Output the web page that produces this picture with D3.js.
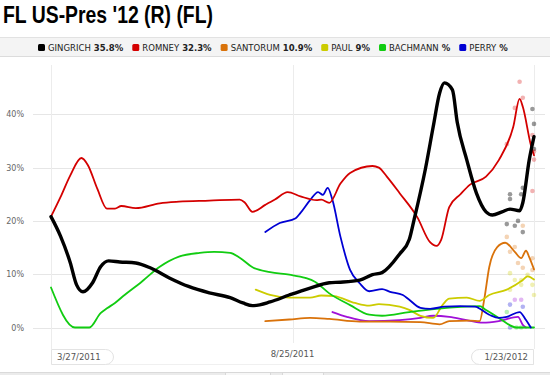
<!DOCTYPE html>
<meta charset="utf-8">
<html>
<head>
	<script src="https://cdn.jsdelivr.net/npm/d3@7"></script>
	<style>
		body { margin: 0; background: #fff; }
		svg { display: block; }
		text { font-family: "DejaVu Sans", Verdana, sans-serif; }
	</style>
</head>
<body>
<svg id="chart" width="550" height="375"></svg>
<script>
	var title = "FL US-Pres '12 (R) (FL)";
	var candidates = ["GINGRICH", "ROMNEY", "SANTORUM", "PAUL", "BACHMANN", "PERRY"];
	var latest = ["35.8%", "32.3%", "10.9%", "9%", "%", "%"];
	var yTicks = [0, 10, 20, 30, 40];
	var dateTicks = ["2011-03-27", "2011-08-25", "2012-01-23"];
	var dateLabels = ["3/27/2011", "8/25/2011", "1/23/2012"];

	// trend lines, [date, percent]
	var gingrich = [["2011-03-27",20.8],["2011-04-02",17.1],["2011-04-08",12.2],["2011-04-12",8.0],["2011-04-16",6.7],
		["2011-04-22",8.4],["2011-04-27",11.4],["2011-05-02",12.5],["2011-05-09",12.3],["2011-05-19",12.1],["2011-05-28",11.2],
		["2011-06-09",9.3],["2011-06-21",7.7],["2011-07-04",6.5],["2011-07-17",5.6],["2011-07-25",4.6],["2011-07-31",4.1],
		["2011-08-11",4.8],["2011-08-23",6.1],["2011-09-05",7.4],["2011-09-17",8.4],["2011-09-24",8.5],["2011-10-06",8.9],
		["2011-10-14",9.9],["2011-10-20",10.3],["2011-10-31",13.8],["2011-11-06",16.5],["2011-11-09",20.2],["2011-11-16",29.6],
		["2011-11-21",37.7],["2011-11-25",44],["2011-11-28",45.9],["2011-12-03",44.6],["2011-12-06",38.5],["2011-12-12",31.4],
		["2011-12-18",25.2],["2011-12-24",21.7],["2011-12-28",21.1],["2012-01-03",21.7],["2012-01-08",22.2],["2012-01-14",21.9],
		["2012-01-16",23.4],["2012-01-20",31.4],["2012-01-23",35.8]];
	var romney = [["2011-03-27",20.8],["2011-04-02",24.5],["2011-04-08",28.5],["2011-04-15",31.8],["2011-04-19",30.5],
		["2011-04-25",26],["2011-05-01",22.3],["2011-05-06",22.3],["2011-05-10",22.8],["2011-05-19",22.4],["2011-06-03",23.3],
		["2011-06-15",23.6],["2011-07-04",23.8],["2011-07-23",24.0],["2011-07-26",23.5],["2011-07-31",21.7],["2011-08-08",23.0],
		["2011-08-14",24.0],["2011-08-22",25.4],["2011-08-30",24.6],["2011-09-09",23.9],["2011-09-12",24.0],["2011-09-17",23.4],
		["2011-09-24",27],["2011-09-30",29],["2011-10-14",30.3],["2011-10-18",30],["2011-10-23",28.3],["2011-10-31",25.2],
		["2011-11-11",20.7],["2011-11-19",16],["2011-11-23",15.3],["2011-11-26",16.5],["2011-12-01",22.6],["2011-12-08",25],
		["2011-12-14",26.8],["2011-12-24",28.3],["2012-01-01",31.4],["2012-01-10",37.6],["2012-01-14",42.9],["2012-01-16",41.4],
		["2012-01-21",34.3],["2012-01-23",32.3]];
	var santorum = [["2011-08-08",1.2],["2011-08-23",1.5],["2011-09-05",1.8],["2011-09-17",1.6],["2011-10-06",1.1],
		["2011-10-25",1.1],["2011-11-13",1.0],["2011-11-25",0.6],["2011-12-01",1.2],["2011-12-14",1.3],["2011-12-20",1.2],
		["2011-12-23",5.5],["2011-12-26",11.3],["2011-12-31",15.1],["2012-01-05",15.9],["2012-01-11",14.2],["2012-01-15",13.0],
		["2012-01-18",14.4],["2012-01-20",13.2],["2012-01-23",10.9]];
	var paul = [["2011-08-02",7.1],["2011-08-11",6.1],["2011-08-23",5.6],["2011-09-05",5.6],["2011-09-12",6.0],
		["2011-09-20",5.9],["2011-10-03",4.6],["2011-10-12",4.1],["2011-10-18",4.4],["2011-10-31",3.9],["2011-11-06",3.3],
		["2011-11-13",2.2],["2011-11-21",1.8],["2011-11-27",4.3],["2011-12-01",5.4],["2011-12-12",5.6],["2011-12-20",5.0],
		["2011-12-26",6.1],["2012-01-06",7.1],["2012-01-16",8.9],["2012-01-19",9.6],["2012-01-23",9.0]];
	var bachmann = [["2011-03-27",7.5],["2011-04-11",0],["2011-04-20",0],["2011-04-27",2.7],["2011-05-01",3.6],
		["2011-05-06",4.6],["2011-05-12",6.1],["2011-05-22",8.4],["2011-06-03",11.4],["2011-06-15",13.3],["2011-06-28",14.0],
		["2011-07-07",14.2],["2011-07-17",14.0],["2011-07-23",13.1],["2011-07-31",11.3],["2011-08-11",10.4],["2011-08-23",9.9],
		["2011-09-02",9.3],["2011-09-08",8.6],["2011-09-17",6.4],["2011-09-30",4.2],["2011-10-12",2.4],["2011-10-20",2.2],
		["2011-11-06",2.9],["2011-11-23",3.5],["2011-12-20",4.0],["2011-12-24",3.3],["2012-01-01",1.8],["2012-01-12",0],
		["2012-01-23",0]];
	var perry = [["2011-08-08",17.9],["2011-08-17",19.6],["2011-08-27",20.5],["2011-08-30",21.5],["2011-09-05",23.9],
		["2011-09-10",25.4],["2011-09-13",24.9],["2011-09-16",26.2],["2011-09-19",23.9],["2011-09-24",17],["2011-09-30",10.8],
		["2011-10-06",8.3],["2011-10-12",6.8],["2011-10-20",7.2],["2011-10-25",6.7],["2011-11-02",6.1],["2011-11-06",5.2],
		["2011-11-13",3.7],["2011-11-19",3.5],["2011-11-28",3.9],["2011-12-08",4.0],["2011-12-17",3.9],["2011-12-26",2.4],
		["2012-01-01",1.8],["2012-01-06",2.0],["2012-01-14",2.9],["2012-01-18",1.4],["2012-01-21",0]];
	var other = [["2011-09-19",2.9],["2011-09-28",2.0],["2011-10-12",1.2],["2011-10-31",1.4],["2011-11-13",1.8],
		["2011-11-21",2.2],["2011-12-01",2.0],["2011-12-12",1.4],["2011-12-22",0.9],["2012-01-01",1.2],["2012-01-13",2.0],
		["2012-01-16",0.5],["2012-01-18",0]];

	// individual polls near the end
	var gingrichPolls = [["2012-01-22",41],["2012-01-23",38.2],["2012-01-16",26.2],["2012-01-15",25],["2012-01-08",25],
		["2012-01-08",24.1],["2012-01-06",19.4],["2012-01-11",19.1],["2012-01-13",20],["2012-01-16",17.9],["2012-01-23",33.5]];
	var romneyPolls = [["2012-01-14",46.1],["2012-01-11",41.2],["2012-01-16",43.1],["2012-01-06",34.4],["2012-01-22",36.1],
		["2012-01-22",25.6],["2012-01-23",33],["2012-01-23",31.5]];
	var santorumPolls = [["2012-01-06",17],["2012-01-16",19.1],["2012-01-22",13],["2012-01-22",10.8],["2012-01-11",15.1],
		["2012-01-13",12.1],["2012-01-16",11.2],["2012-01-08",14.2]];
	var paulPolls = [["2012-01-08",10.2],["2012-01-11",8.9],["2012-01-15",8.9],["2012-01-08",7.1],["2012-01-15",8],
		["2012-01-22",8],["2012-01-23",6.1],["2012-01-19",9.9]];
	var bachmannPolls = [["2012-01-06",2.9],["2012-01-12",0],["2012-01-15",0]];
	var perryPolls = [["2012-01-16",3.9],["2012-01-08",4.3],["2012-01-08",0]];
	var otherPolls = [["2012-01-11",5.2],["2012-01-15",5.2]];

	var colors = ["#000000", "#d40000", "#d9720a", "#cccc00", "#11cc11", "#0000d4"];
	var otherColor = "#a010d8";

	var parse = d3.timeParse("%Y-%m-%d");
	var svg = d3.select("#chart");

	var x = d3.scaleTime()
		.domain([parse(dateTicks[0]), parse(dateTicks[2])])
		.range([51, 534]);
	var y = d3.scaleLinear()
		.domain([0, 40])
		.range([327.5, 114.3]);

	// title
	svg.append("text")
		.attr("x", 3).attr("y", 23)
		.attr("textLength", 210).attr("lengthAdjust", "spacingAndGlyphs")
		.style("font-family", '"Liberation Sans Narrow", "Liberation Sans", Arial, sans-serif')
		.style("font-weight", "bold").style("font-size", "24px")
		.text(title);

	// legend band
	svg.append("rect").attr("x", 0).attr("y", 37).attr("width", 550).attr("height", 20)
		.attr("fill", "#f4f4f4");
	svg.append("line").attr("x1", 0).attr("x2", 550).attr("y1", 37.5).attr("y2", 37.5).attr("stroke", "#e2e2e2");
	svg.append("line").attr("x1", 0).attr("x2", 550).attr("y1", 56.5).attr("y2", 56.5).attr("stroke", "#dcdcdc");

	var lx = 38;
	candidates.forEach(function(name, i) {
		svg.append("rect").attr("x", lx).attr("y", 44).attr("width", 7).attr("height", 7)
			.attr("rx", 1.5).attr("fill", colors[i]);
		var t = svg.append("text").attr("x", lx + 10).attr("y", 51)
			.style("font-size", "8.5px").attr("fill", "#222");
		t.append("tspan").text(name);
		t.append("tspan").attr("dx", 3).style("font-weight", "bold").text(latest[i]);
		lx += 10 + t.node().getComputedTextLength() + 3 + 9;
	});

	// grid
	var grid = svg.append("g");
	grid.selectAll(".hgrid").data(yTicks).enter().append("line")
		.attr("x1", 33).attr("x2", 545)
		.attr("y1", function(d) { return Math.round(y(d)) + 0.5; })
		.attr("y2", function(d) { return Math.round(y(d)) + 0.5; })
		.attr("stroke", "#e6e6e6");
	grid.selectAll(".vgrid").data(dateTicks).enter().append("line")
		.attr("x1", function(d) { return Math.round(x(parse(d))) + 0.5; })
		.attr("x2", function(d) { return Math.round(x(parse(d))) + 0.5; })
		.attr("y1", 65)
		.attr("y2", function(d, i) { return i == 1 ? 343 : 349; })
		.attr("stroke", "#ececec");

	svg.selectAll(".ylab").data(yTicks).enter().append("text")
		.attr("x", 24).attr("y", function(d) { return y(d) + 3; })
		.attr("text-anchor", "end")
		.style("font-size", "8px").attr("fill", "#666")
		.text(function(d) { return d + "%"; });

	// date handles
	var bottom = svg.append("g");
	bottom.append("line").attr("x1", 52).attr("x2", 534).attr("y1", 364.5).attr("y2", 364.5).attr("stroke", "#f0f0f0");
	bottom.append("path")
		.attr("d", "M" + (x(parse(dateTicks[0])) + 0.5) + ",349.5 h54 a8,7.5 0 0 1 0,15 h-54 z")
		.attr("fill", "#fff").attr("stroke", "#e3e3e3");
	bottom.append("path")
		.attr("d", "M" + (x(parse(dateTicks[2])) - 0.5) + ",349.5 h-54 a8,7.5 0 0 0 0,15 h54 z")
		.attr("fill", "#fff").attr("stroke", "#e3e3e3");
	bottom.selectAll(".dlab").data(dateLabels).enter().append("text")
		.attr("x", function(d, i) {
			var px = x(parse(dateTicks[i]));
			return i == 0 ? px + 6 : (i == 2 ? px - 6 : px);
		})
		.attr("y", function(d, i) { return i == 1 ? 357 : 360; })
		.attr("text-anchor", function(d, i) { return i == 0 ? "start" : (i == 2 ? "end" : "middle"); })
		.style("font-size", "8.5px").attr("fill", "#555")
		.text(function(d) { return d; });

	// bottom bar with tabs
	bottom.append("rect").attr("x", 0).attr("y", 372).attr("width", 550).attr("height", 3).attr("fill", "#ebebeb");
	bottom.append("line").attr("x1", 0).attr("x2", 550).attr("y1", 372.5).attr("y2", 372.5).attr("stroke", "#dadada");
	bottom.append("rect").attr("x", 225.5).attr("y", 372.5).attr("width", 45).attr("height", 4).attr("fill", "#f7f7f7").attr("stroke", "#d8d8d8");
	bottom.append("rect").attr("x", 282.5).attr("y", 372.5).attr("width", 41).attr("height", 4).attr("fill", "#f7f7f7").attr("stroke", "#d8d8d8");

	// poll dots
	var pollSets = [gingrichPolls, romneyPolls, santorumPolls, paulPolls, bachmannPolls, perryPolls, otherPolls];
	var pollColors = colors.concat([otherColor]);
	var dots = svg.append("g");
	pollSets.forEach(function(set, i) {
		dots.selectAll(null).data(set).enter().append("circle")
			.attr("cx", function(d) { return x(parse(d[0])); })
			.attr("cy", function(d) { return y(d[1]); })
			.attr("r", 2.3)
			.attr("fill", pollColors[i])
			.attr("fill-opacity", i == 0 ? 0.4 : 0.3);
	});

	// trend lines
	var line = d3.line()
		.curve(d3.curveMonotoneX)
		.x(function(d) { return x(parse(d[0])); })
		.y(function(d) { return y(d[1]); });

	var series = [
		{data: other, color: otherColor, width: 1.8},
		{data: santorum, color: colors[2], width: 1.8},
		{data: paul, color: colors[3], width: 1.8},
		{data: bachmann, color: colors[4], width: 1.8},
		{data: perry, color: colors[5], width: 1.8},
		{data: romney, color: colors[1], width: 1.8},
		{data: gingrich, color: colors[0], width: 3.4}
	];

	svg.append("g").selectAll("path").data(series).enter().append("path")
		.attr("d", function(d) { return line(d.data); })
		.attr("fill", "none")
		.attr("stroke", function(d) { return d.color; })
		.attr("stroke-width", function(d) { return d.width; })
		.attr("stroke-linejoin", "round")
		.attr("stroke-linecap", "round");
</script>
</body>
</html>
